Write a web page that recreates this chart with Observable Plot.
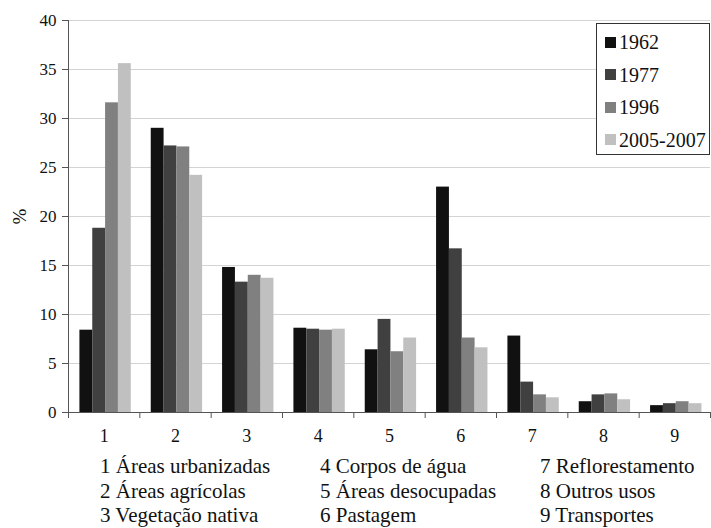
<!DOCTYPE html>
<html><head><meta charset="utf-8">
<script src="https://cdn.jsdelivr.net/npm/d3@7"></script>
<script src="https://cdn.jsdelivr.net/npm/@observablehq/plot@0.6"></script>
<style>
body{margin:0;background:#fff;}
#wrap{position:relative;width:711px;height:528px;font-family:"Liberation Serif","DejaVu Serif",serif;color:#111;overflow:hidden;}
#legend{position:absolute;left:596px;top:23px;width:114px;height:132px;border:1px solid #333;background:#fff;box-sizing:border-box;}
.li{position:absolute;left:8px;font-size:20px;line-height:20px;display:flex;align-items:center;}
.sw{width:11px;height:11px;margin-right:3px;}
#cats{position:absolute;top:454px;left:0;font-size:21px;}
.cl{position:absolute;white-space:nowrap;line-height:25px;}
</style></head>
<body><div id="wrap"><div id="chart"></div><div id="legend"></div><div id="cats"></div></div>
<script>
const categories = [1,2,3,4,5,6,7,8,9];
const categoryNames = ["Áreas urbanizadas","Áreas agrícolas","Vegetação nativa","Corpos de água","Áreas desocupadas","Pastagem","Reflorestamento","Outros usos","Transportes"];
const series = ["1962","1977","1996","2005-2007"];
const colors = ["#111111","#404040","#808080","#c0c0c0"];
const v1962 = [8.4, 29.0, 14.8, 8.6, 6.4, 23.0, 7.8, 1.1, 0.7];
const v1977 = [18.8, 27.2, 13.3, 8.5, 9.5, 16.7, 3.1, 1.8, 0.9];
const v1996 = [31.6, 27.1, 14.0, 8.4, 6.2, 7.6, 1.8, 1.9, 1.1];
const v2005 = [35.6, 24.2, 13.7, 8.5, 7.6, 6.6, 1.5, 1.3, 0.9];
const yTicks = [0,5,10,15,20,25,30,35,40];

const valuesBySeries = [v1962, v1977, v1996, v2005];
const data = [];
series.forEach((s, j) => categories.forEach((c, i) => data.push({cat: c, s: j, year: s, value: valuesBySeries[j][i]})));

const pad = 0.16, bw = 0.18;
const boundaries = [...categories.map(c => c - 0.5), categories[categories.length-1] + 0.5];
const FONT = '"Liberation Serif","DejaVu Serif",serif';

const chart = Plot.plot({
  width: 711, height: 452,
  marginTop: 20, marginBottom: 40, marginLeft: 68, marginRight: 1,
  style: {fontFamily: FONT, fontSize: "17px", color: "#111", background: "#fff"},
  x: {domain: [0.5, 9.5], axis: null},
  y: {domain: [0, 40], axis: null},
  color: {domain: series, range: colors},
  marks: [
    Plot.gridY(yTicks.slice(1), {stroke: "#d4d4d4", strokeOpacity: 1}),
    Plot.rectY(data, {x1: d => d.cat - 0.5 + pad + d.s * bw, x2: d => d.cat - 0.5 + pad + (d.s + 1) * bw, y1: 0, y2: "value", fill: "year"}),
    Plot.axisY({ticks: yTicks, tickSize: 6, tickPadding: 6, stroke: "#555", fontSize: 17, fontFamily: FONT, label: null}),
    Plot.axisY({ticks: [], label: "%", labelAnchor: "center", labelArrow: "none", labelOffset: 56, fontSize: 19, fontFamily: FONT}),
    Plot.ruleX([0.5], {stroke: "#555"}),
    Plot.ruleY([0], {stroke: "#555"}),
    Plot.axisX({ticks: boundaries, tickSize: 6, tickFormat: () => "", stroke: "#555", label: null}),
    Plot.axisX({ticks: categories, tickSize: 0, tickPadding: 17, fontSize: 18, fontFamily: FONT, label: null})
  ]
});
document.getElementById("chart").appendChild(chart);

const leg = document.getElementById("legend");
series.forEach((s, j) => {
  const d = document.createElement("div");
  d.className = "li";
  d.style.top = (8 + j * 32.5) + "px";
  d.innerHTML = `<span class="sw" style="background:${colors[j]}"></span><span>${s}</span>`;
  leg.appendChild(d);
});

const cats = document.getElementById("cats");
const colLeft = [100, 320, 540];
categories.forEach((c, i) => {
  const d = document.createElement("div");
  d.className = "cl";
  d.style.left = colLeft[Math.floor(i / 3)] + "px";
  d.style.top = ((i % 3) * 24.5) + "px";
  d.textContent = c + " " + categoryNames[i];
  cats.appendChild(d);
});
</script></body></html>
